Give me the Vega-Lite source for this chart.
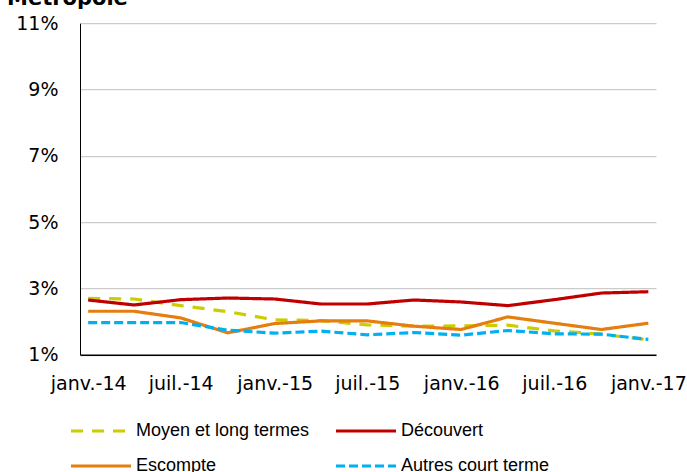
{
  "$schema": "https://vega.github.io/schema/vega-lite/v6.json",
  "width": 576,
  "height": 331.5,
  "autosize": {"type": "none"},
  "padding": {"left": 80, "top": 23.2, "right": 31, "bottom": 117.3},
  "background": "white",
  "title": {
    "text": "Métropole",
    "anchor": "start",
    "frame": "group",
    "dx": -73,
    "dy": 21,
    "offset": 9,
    "baseline": "alphabetic",
    "font": "DejaVu Sans",
    "fontSize": 21,
    "fontWeight": "bold",
    "color": "black"
  },
  "data": {
    "values": [
      {"date": "2014-01-01", "series": "Moyen et long termes", "value": 2.70},
      {"date": "2014-04-01", "series": "Moyen et long termes", "value": 2.68},
      {"date": "2014-07-01", "series": "Moyen et long termes", "value": 2.48},
      {"date": "2014-10-01", "series": "Moyen et long termes", "value": 2.30},
      {"date": "2015-01-01", "series": "Moyen et long termes", "value": 2.05},
      {"date": "2015-04-01", "series": "Moyen et long termes", "value": 2.03},
      {"date": "2015-07-01", "series": "Moyen et long termes", "value": 1.90},
      {"date": "2015-10-01", "series": "Moyen et long termes", "value": 1.86},
      {"date": "2016-01-01", "series": "Moyen et long termes", "value": 1.87},
      {"date": "2016-04-01", "series": "Moyen et long termes", "value": 1.89},
      {"date": "2016-07-01", "series": "Moyen et long termes", "value": 1.72},
      {"date": "2016-10-01", "series": "Moyen et long termes", "value": 1.62},
      {"date": "2017-01-01", "series": "Moyen et long termes", "value": 1.45},
      {"date": "2014-01-01", "series": "Découvert", "value": 2.65},
      {"date": "2014-04-01", "series": "Découvert", "value": 2.50},
      {"date": "2014-07-01", "series": "Découvert", "value": 2.66},
      {"date": "2014-10-01", "series": "Découvert", "value": 2.71},
      {"date": "2015-01-01", "series": "Découvert", "value": 2.68},
      {"date": "2015-04-01", "series": "Découvert", "value": 2.53},
      {"date": "2015-07-01", "series": "Découvert", "value": 2.53},
      {"date": "2015-10-01", "series": "Découvert", "value": 2.65},
      {"date": "2016-01-01", "series": "Découvert", "value": 2.59},
      {"date": "2016-04-01", "series": "Découvert", "value": 2.48},
      {"date": "2016-07-01", "series": "Découvert", "value": 2.66},
      {"date": "2016-10-01", "series": "Découvert", "value": 2.86},
      {"date": "2017-01-01", "series": "Découvert", "value": 2.90},
      {"date": "2014-01-01", "series": "Escompte", "value": 2.31},
      {"date": "2014-04-01", "series": "Escompte", "value": 2.31},
      {"date": "2014-07-01", "series": "Escompte", "value": 2.11},
      {"date": "2014-10-01", "series": "Escompte", "value": 1.66},
      {"date": "2015-01-01", "series": "Escompte", "value": 1.94},
      {"date": "2015-04-01", "series": "Escompte", "value": 2.02},
      {"date": "2015-07-01", "series": "Escompte", "value": 2.02},
      {"date": "2015-10-01", "series": "Escompte", "value": 1.86},
      {"date": "2016-01-01", "series": "Escompte", "value": 1.76},
      {"date": "2016-04-01", "series": "Escompte", "value": 2.14},
      {"date": "2016-07-01", "series": "Escompte", "value": 1.95},
      {"date": "2016-10-01", "series": "Escompte", "value": 1.76},
      {"date": "2017-01-01", "series": "Escompte", "value": 1.95},
      {"date": "2014-01-01", "series": "Autres court terme", "value": 1.97},
      {"date": "2014-04-01", "series": "Autres court terme", "value": 1.97},
      {"date": "2014-07-01", "series": "Autres court terme", "value": 1.97},
      {"date": "2014-10-01", "series": "Autres court terme", "value": 1.74},
      {"date": "2015-01-01", "series": "Autres court terme", "value": 1.65},
      {"date": "2015-04-01", "series": "Autres court terme", "value": 1.71},
      {"date": "2015-07-01", "series": "Autres court terme", "value": 1.60},
      {"date": "2015-10-01", "series": "Autres court terme", "value": 1.67},
      {"date": "2016-01-01", "series": "Autres court terme", "value": 1.59},
      {"date": "2016-04-01", "series": "Autres court terme", "value": 1.73},
      {"date": "2016-07-01", "series": "Autres court terme", "value": 1.63},
      {"date": "2016-10-01", "series": "Autres court terme", "value": 1.62},
      {"date": "2017-01-01", "series": "Autres court terme", "value": 1.46}
    ]
  },
  "mark": {"type": "line", "strokeWidth": 3.2, "clip": false},
  "encoding": {
    "x": {
      "field": "date",
      "type": "temporal",
      "scale": {
        "type": "utc",
        "domain": [
          {"year": 2013, "month": 12, "date": 16, "utc": true},
          {"year": 2017, "month": 1, "date": 16, "utc": true}
        ]
      },
      "axis": {
        "title": null,
        "values": [
          {"year": 2014, "month": 1, "date": 1, "utc": true},
          {"year": 2014, "month": 7, "date": 1, "utc": true},
          {"year": 2015, "month": 1, "date": 1, "utc": true},
          {"year": 2015, "month": 7, "date": 1, "utc": true},
          {"year": 2016, "month": 1, "date": 1, "utc": true},
          {"year": 2016, "month": 7, "date": 1, "utc": true},
          {"year": 2017, "month": 1, "date": 1, "utc": true}
        ],
        "labelExpr": "(utcmonth(datum.value) == 0 ? 'janv.-' : 'juil.-') + utcFormat(datum.value, '%y')",
        "grid": false,
        "ticks": false,
        "domainColor": "black",
        "domainWidth": 1.5,
        "labelPadding": 20,
        "labelFlush": false,
        "labelOverlap": false
      }
    },
    "y": {
      "field": "value",
      "type": "quantitative",
      "scale": {"domain": [1, 11], "nice": false, "zero": false},
      "axis": {
        "title": null,
        "values": [1, 3, 5, 7, 9, 11],
        "labelExpr": "datum.value + '%'",
        "grid": true,
        "gridColor": "#BFBFBF",
        "gridWidth": 1,
        "ticks": false,
        "domainColor": "black",
        "domainWidth": 1,
        "labelPadding": 22,
        "labelFlush": false
      }
    },
    "color": {
      "field": "series",
      "type": "nominal",
      "sort": ["Moyen et long termes", "Découvert", "Escompte", "Autres court terme"],
      "scale": {
        "domain": ["Moyen et long termes", "Découvert", "Escompte", "Autres court terme"],
        "range": ["#CCCC00", "#C00000", "#E57E0E", "#00B0F0"]
      },
      "legend": {
        "title": null,
        "orient": "none",
        "direction": "horizontal",
        "legendX": 4,
        "legendY": 390.8,
        "columns": 2,
        "symbolType": "M-2,0H2",
        "symbolSize": 900,
        "symbolStrokeWidth": 3.2,
        "symbolFillColor": "transparent",
        "labelFont": "Liberation Sans",
        "labelFontSize": 18,
        "labelColor": "black",
        "labelOffset": 18,
        "labelLimit": 400,
        "columnPadding": 19,
        "rowPadding": 9,
        "encode": {
          "symbols": {
            "update": {
              "strokeDash": {"scale": "strokeDash", "field": "value"}
            }
          }
        }
      }
    },
    "strokeDash": {
      "field": "series",
      "type": "nominal",
      "sort": ["Moyen et long termes", "Découvert", "Escompte", "Autres court terme"],
      "scale": {
        "domain": ["Moyen et long termes", "Découvert", "Escompte", "Autres court terme"],
        "range": [[12, 9], [1, 0], [1, 0], [9, 4]]
      },
      "legend": null
    }
  },
  "config": {
    "view": {"stroke": null},
    "axis": {
      "labelFont": "DejaVu Sans",
      "labelFontSize": 19,
      "labelColor": "black"
    }
  }
}
